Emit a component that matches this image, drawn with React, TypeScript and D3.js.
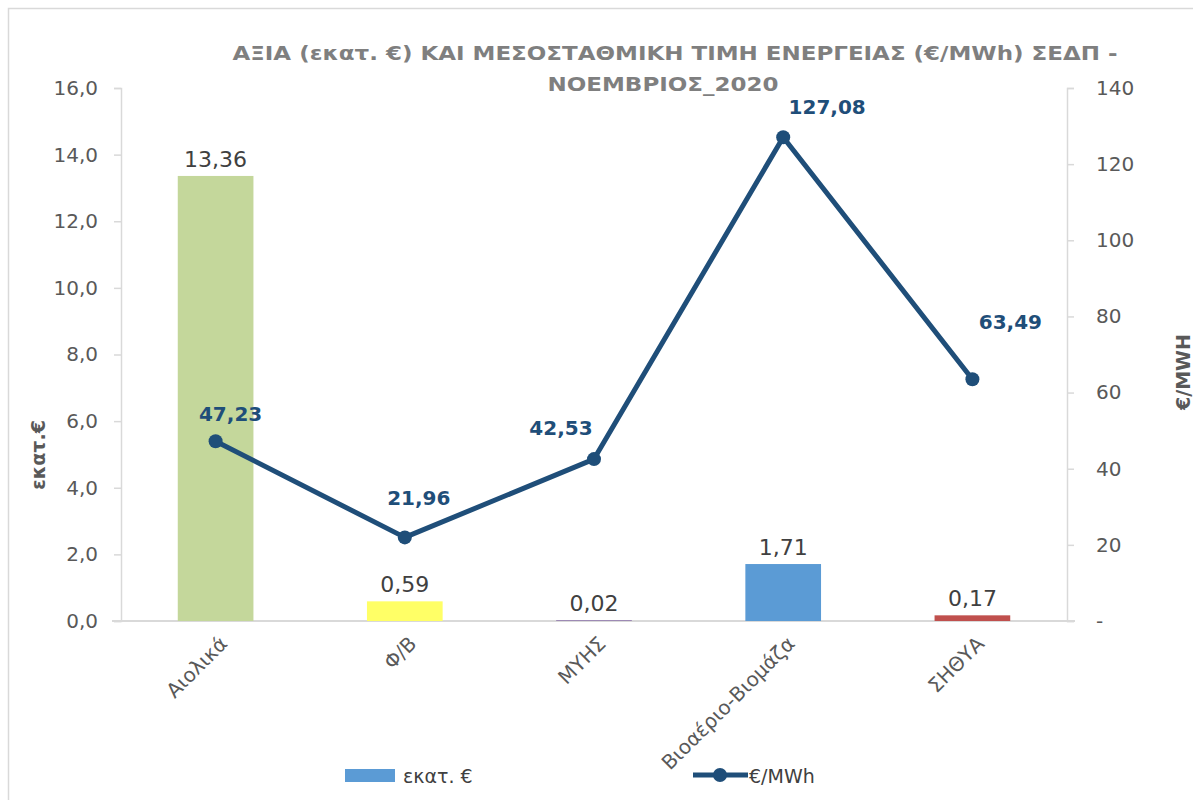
import { useEffect, useRef } from "react";
import * as d3 from "d3";

// data
const categories = ["Αιολικά", "Φ/Β", "ΜΥΗΣ", "Βιοαέριο-Βιομάζα", "ΣΗΘΥΑ"];
const valueMillions = [13.36, 0.59, 0.02, 1.71, 0.17];
const pricePerMWh = [47.23, 21.96, 42.53, 127.08, 63.49];
const barColors = ["#c4d79b", "#ffff66", "#8064a2", "#5b9bd5", "#c0504d"];
const leftTicks = [0, 2, 4, 6, 8, 10, 12, 14, 16];
const rightTicks = [0, 20, 40, 60, 80, 100, 120, 140];
const titleLines = [
  "ΑΞΙΑ (εκατ. €) ΚΑΙ ΜΕΣΟΣΤΑΘΜΙΚΗ ΤΙΜΗ ΕΝΕΡΓΕΙΑΣ (€/MWh) ΣΕΔΠ -",
  "ΝΟΕΜΒΡΙΟΣ_2020",
];
// manual offsets of the line labels (relative to the marker)
const lineLabelOffsets = [
  [15, -20],
  [14, -32],
  [-33, -24],
  [44, -23],
  [38, -50],
];

const FONT = "'DejaVu Sans', sans-serif";
const NUM = (v: number, d: number) => v.toFixed(d).replace(".", ",");

export default function App() {
  const ref = useRef<SVGSVGElement>(null);

  useEffect(() => {
    if (!ref.current) return;
    const svg = d3.select(ref.current);
    svg.selectAll("*").remove();

    const width = 1193;
    const height = 800;
    const plot = { left: 121, right: 1067, top: 88, bottom: 621 };

    // frame
    svg
      .append("rect")
      .attr("x", 8.5)
      .attr("y", 8.5)
      .attr("width", width)
      .attr("height", height)
      .attr("fill", "#fff")
      .attr("stroke", "#d9d9d9")
      .attr("stroke-width", 1.5);

    // category centres
    const step = (plot.right - plot.left) / categories.length;
    const cx = (i: number) => plot.left + step * (i + 0.5);
    const barW = step * 0.4;

    const yL = d3.scaleLinear().domain([0, 16]).range([plot.bottom, plot.top]);
    const yR = d3.scaleLinear().domain([0, 140]).range([plot.bottom, plot.top]);

    // title
    const title = svg
      .append("text")
      .attr("text-anchor", "middle")
      .attr("font-family", FONT)
      .attr("font-weight", "bold")
      .attr("font-size", 20)
      .attr("fill", "#7f7f7f");
    title
      .append("tspan")
      .attr("x", 675)
      .attr("y", 60)
      .attr("textLength", 885)
      .attr("lengthAdjust", "spacingAndGlyphs")
      .text(titleLines[0]);
    title
      .append("tspan")
      .attr("x", 663)
      .attr("y", 91)
      .attr("textLength", 231)
      .attr("lengthAdjust", "spacingAndGlyphs")
      .text(titleLines[1]);

    // left axis
    const axL = svg
      .append("g")
      .attr("transform", `translate(${plot.left},0)`)
      .call(
        d3
          .axisLeft(yL)
          .tickValues(leftTicks)
          .tickSize(7)
          .tickPadding(16)
          .tickFormat((d) => NUM(d as number, 1))
      );
    axL.selectAll("path, line").attr("stroke", "#d9d9d9").attr("stroke-width", 1.5);
    axL
      .selectAll("text")
      .attr("font-family", FONT)
      .attr("font-size", 20)
      .attr("fill", "#595959");

    // right axis
    const axR = svg
      .append("g")
      .attr("transform", `translate(${plot.right},0)`)
      .call(
        d3
          .axisRight(yR)
          .tickValues(rightTicks)
          .tickSize(7)
          .tickPadding(22)
          .tickFormat((d) => ((d as number) === 0 ? "-" : String(d)))
      );
    axR.selectAll("path, line").attr("stroke", "#d9d9d9").attr("stroke-width", 1.5);
    axR
      .selectAll("text")
      .attr("font-family", FONT)
      .attr("font-size", 20)
      .attr("fill", "#595959");

    // bottom axis line
    svg
      .append("line")
      .attr("x1", plot.left - 9)
      .attr("x2", plot.right + 8)
      .attr("y1", plot.bottom)
      .attr("y2", plot.bottom)
      .attr("stroke", "#d9d9d9")
      .attr("stroke-width", 2);

    // axis titles
    svg
      .append("text")
      .attr("transform", `translate(45,455) rotate(-90)`)
      .attr("text-anchor", "middle")
      .attr("font-family", FONT)
      .attr("font-weight", "bold")
      .attr("font-size", 19)
      .attr("fill", "#595959")
      .text("εκατ.€");
    svg
      .append("text")
      .attr("transform", `translate(1190,372) rotate(-90)`)
      .attr("text-anchor", "middle")
      .attr("font-family", FONT)
      .attr("font-weight", "bold")
      .attr("font-size", 19)
      .attr("fill", "#595959")
      .text("€/MWH");

    // category labels
    svg
      .selectAll("text.cat")
      .data(categories)
      .join("text")
      .attr("class", "cat")
      .attr("transform", (_d, i) => `translate(${cx(i) + 13},${plot.bottom + 24}) rotate(-45)`)
      .attr("text-anchor", "end")
      .attr("font-family", FONT)
      .attr("font-size", 20)
      .attr("fill", "#595959")
      .text((d) => d);

    // bars
    svg
      .selectAll("rect.bar")
      .data(valueMillions)
      .join("rect")
      .attr("class", "bar")
      .attr("x", (_d, i) => cx(i) - barW / 2)
      .attr("y", (d) => yL(d))
      .attr("width", barW)
      .attr("height", (d) => yL(0) - yL(d))
      .attr("fill", (_d, i) => barColors[i]);

    svg
      .selectAll("text.barlab")
      .data(valueMillions)
      .join("text")
      .attr("class", "barlab")
      .attr("x", (_d, i) => cx(i))
      .attr("y", (d) => yL(d) - 9)
      .attr("text-anchor", "middle")
      .attr("font-family", FONT)
      .attr("font-size", 22)
      .attr("fill", "#404040")
      .text((d) => NUM(d, 2));

    // line series
    const line = d3
      .line<number>()
      .x((_d, i) => cx(i))
      .y((d) => yR(d));
    svg
      .append("path")
      .datum(pricePerMWh)
      .attr("d", line)
      .attr("fill", "none")
      .attr("stroke", "#1f4e79")
      .attr("stroke-width", 5)
      .attr("stroke-linejoin", "round");
    svg
      .selectAll("circle.pt")
      .data(pricePerMWh)
      .join("circle")
      .attr("class", "pt")
      .attr("cx", (_d, i) => cx(i))
      .attr("cy", (d) => yR(d))
      .attr("r", 7)
      .attr("fill", "#1f4e79");
    svg
      .selectAll("text.ptlab")
      .data(pricePerMWh)
      .join("text")
      .attr("class", "ptlab")
      .attr("x", (_d, i) => cx(i) + lineLabelOffsets[i][0])
      .attr("y", (d, i) => yR(d) + lineLabelOffsets[i][1])
      .attr("text-anchor", "middle")
      .attr("font-family", FONT)
      .attr("font-weight", "bold")
      .attr("font-size", 20)
      .attr("fill", "#1f4e79")
      .text((d) => NUM(d, 2));

    // legend
    const leg = svg.append("g");
    leg
      .append("rect")
      .attr("x", 345)
      .attr("y", 769)
      .attr("width", 50)
      .attr("height", 13)
      .attr("fill", barColors[3]);
    leg
      .append("text")
      .attr("x", 403)
      .attr("y", 783)
      .attr("font-family", FONT)
      .attr("font-size", 19)
      .attr("fill", "#404040")
      .text("εκατ. €");
    leg
      .append("line")
      .attr("x1", 693)
      .attr("x2", 748)
      .attr("y1", 775)
      .attr("y2", 775)
      .attr("stroke", "#1f4e79")
      .attr("stroke-width", 5);
    leg
      .append("circle")
      .attr("cx", 720)
      .attr("cy", 775)
      .attr("r", 7)
      .attr("fill", "#1f4e79");
    leg
      .append("text")
      .attr("x", 749)
      .attr("y", 783)
      .attr("font-family", FONT)
      .attr("font-size", 19)
      .attr("fill", "#404040")
      .text("€/MWh");
  }, []);

  return (
    <svg
      ref={ref}
      width={1193}
      height={800}
      style={{ position: "absolute", left: 0, top: 0, background: "#fff" }}
    />
  );
}
